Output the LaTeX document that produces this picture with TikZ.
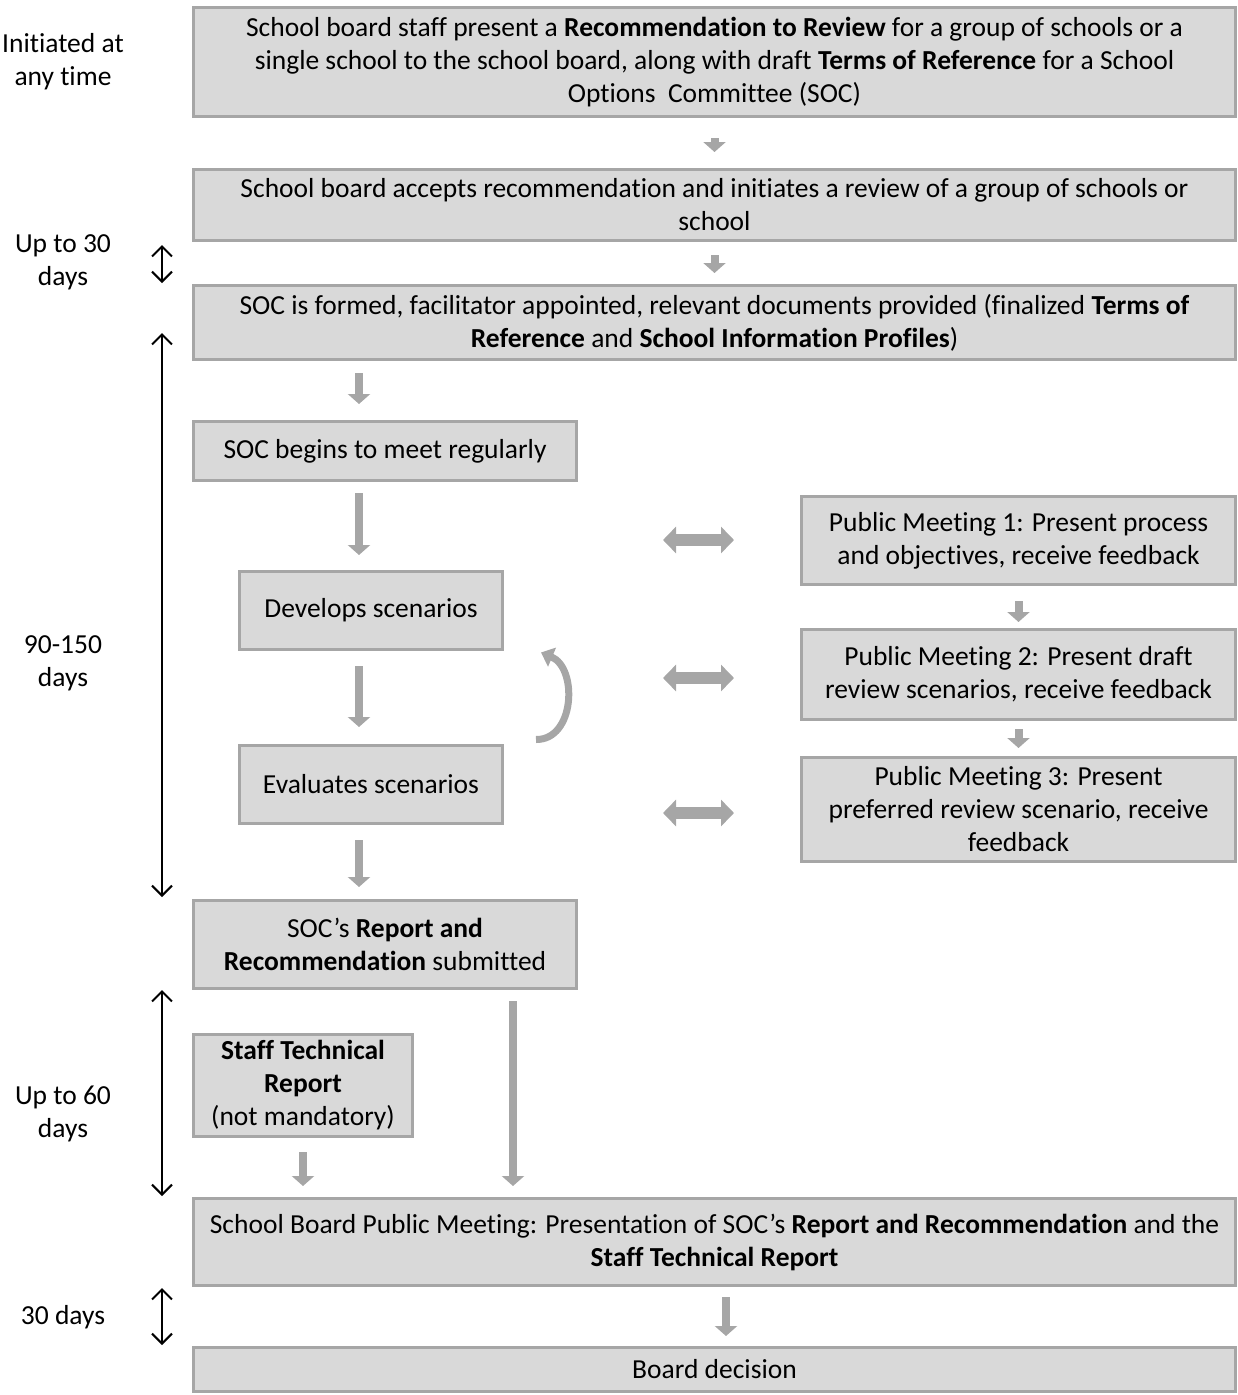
\documentclass[tikz,border=0pt]{standalone}
\usepackage{fontspec}
\setmainfont[Ligatures={NoCommon}]{Carlito}
\usetikzlibrary{arrows.meta,calc}
\definecolor{boxgray}{HTML}{D9D9D9}
\definecolor{bordergray}{HTML}{A6A6A6}
\definecolor{arrgray}{HTML}{A6A6A6}
\begin{document}
\begin{tikzpicture}[x=1pt,y=-1pt,
  stagebox/.style={draw=bordergray, line width=3pt, fill=boxgray, align=center, inner sep=0pt,
    font=\fontsize{27.5}{33}\selectfont, text=black},
  garrow/.style={draw=arrgray, line width=8pt, -{Triangle[length=10pt,width=22pt]}},
  hdarrow/.style={draw=arrgray, line width=12pt, {Triangle[length=13pt,width=26pt]}-{Triangle[length=13pt,width=26pt]}},
  carrow/.style={draw=arrgray, line width=7pt, -{Triangle[length=12pt,width=20pt]}},
  barrow/.style={draw=black, line width=2pt, {Straight Barb[length=10pt,width=20pt]}-{Straight Barb[length=10pt,width=20pt]}},
  sidelabel/.style={align=center, font=\fontsize{27.5}{33}\selectfont, inner sep=0pt}]
\useasboundingbox (0,0) rectangle (1238,1395);

% boxes
\node[stagebox, minimum width=1042pt, minimum height=109pt] (b1) at (714.5,62)
 {School board staff present a \textbf{Recommendation to Review} for a group of schools or a\\
  single school to the school board, along with draft \textbf{Terms of Reference} for a School\\
  Options~ Committee (SOC)};
\node[stagebox, minimum width=1042pt, minimum height=71pt] (b2) at (714.5,205)
 {School board accepts recommendation and initiates a review of a group of schools or\\ school};
\node[stagebox, minimum width=1042pt, minimum height=74pt] (b3) at (714.5,322.5)
 {SOC is formed, facilitator appointed, relevant documents provided (finalized \textbf{Terms of}\\
  \textbf{Reference} and \textbf{School Information Profiles})};
\node[stagebox, minimum width=383pt, minimum height=59pt] (b4) at (385,451)
 {SOC begins to meet regularly};
\node[stagebox, minimum width=263pt, minimum height=78pt] (b5) at (371,610.5)
 {Develops scenarios};
\node[stagebox, minimum width=263pt, minimum height=78pt] (b6) at (371,784.5)
 {Evaluates scenarios};
\node[stagebox, minimum width=383pt, minimum height=88pt] (b7) at (385,944.5)
 {SOC’s \textbf{Report and}\\ \textbf{Recommendation} submitted};
\node[stagebox, minimum width=219pt, minimum height=102pt] (b8) at (303,1085.5)
 {\textbf{Staff Technical}\\ \textbf{Report}\\ (not mandatory)};
\node[stagebox, minimum width=1042pt, minimum height=87pt] (b9) at (714.5,1242)
 {School Board Public Meeting: Presentation of SOC’s \textbf{Report and Recommendation} and the\\
  \textbf{Staff Technical Report}};
\node[stagebox, minimum width=1042pt, minimum height=44pt] (b10) at (714.5,1369.5)
 {Board decision};
\node[stagebox, minimum width=434pt, minimum height=88pt] (p1) at (1018.5,540.5)
 {Public Meeting 1: Present process\\ and objectives, receive feedback};
\node[stagebox, minimum width=434pt, minimum height=90pt] (p2) at (1018.5,674.5)
 {Public Meeting 2: Present draft\\ review scenarios, receive feedback};
\node[stagebox, minimum width=434pt, minimum height=104pt] (p3) at (1018.5,809.5)
 {Public Meeting 3: Present\\ preferred review scenario, receive\\ feedback};

% side labels
\node[sidelabel] (l1) at (63,62) {Initiated at\\ any time};
\node[sidelabel] (l2) at (63,262) {Up to 30\\ days};
\node[sidelabel] (l3) at (63,663) {90-150\\ days};
\node[sidelabel] (l4) at (63,1114) {Up to 60\\ days};
\node[sidelabel] (l5) at (63,1317) {30 days};

% gray down arrows
\draw[garrow, shorten <=20pt, shorten >=16pt] (b1.south) -- (b2.north);
\draw[garrow, shorten <=13pt, shorten >=11pt] (b2.south) -- (b3.north);
\coordinate (xa) at ([xshift=-26pt]b4.north);
\draw[garrow, shorten <=12pt, shorten >=16pt] (xa |- b3.south) -- (xa);
\draw[garrow, shorten <=11pt, shorten >=15pt] (xa |- b4.south) -- (xa |- b5.north);
\draw[garrow, shorten <=15pt, shorten >=17pt] (xa |- b5.south) -- (xa |- b6.north);
\draw[garrow, shorten <=15pt, shorten >=12pt] (xa |- b6.south) -- (xa |- b7.north);
\draw[garrow, shorten <=15pt, shorten >=6pt] (p1.south) -- (p2.north);
\draw[garrow, shorten <=8pt, shorten >=8pt] (p2.south) -- (p3.north);
\coordinate (xb) at ([xshift=128pt]b7.south);
\draw[garrow, shorten <=11pt, shorten >=11pt] (xb) -- (xb |- b9.north);
\draw[garrow, shorten <=14pt, shorten >=11pt] (b8.south) -- (b8.south |- b9.north);
\coordinate (xc) at ([xshift=11.5pt]b9.south);
\draw[garrow, shorten <=10pt, shorten >=10pt] (xc) -- (xc |- b10.north);

% horizontal double arrows
\coordinate (h1) at ([xshift=-137pt,yshift=0.5pt]p1.west);
\draw[hdarrow, shorten >=66pt] (h1) -- (h1 -| p1.west);
\coordinate (h2) at ([xshift=-137pt,yshift=-3.5pt]p2.west);
\draw[hdarrow, shorten >=66pt] (h2) -- (h2 -| p2.west);
\coordinate (h3) at ([xshift=-137pt,yshift=-3.5pt]p3.west);
\draw[hdarrow, shorten >=66pt] (h3) -- (h3 -| p3.west);

% curved arrow
\coordinate (cs) at ([xshift=32pt,yshift=4.5pt]b6.north east);
\coordinate (ce) at ([xshift=37pt,yshift=-1.5pt]b5.south east);
\draw[carrow] (cs) .. controls (575,740) and (578,668) .. (ce);

% black timeline arrows
\coordinate (t1a) at (162,245); \coordinate (t1b) at (162,283);
\coordinate (t2a) at (162,333); \coordinate (t2b) at (162,897);
\coordinate (t3a) at (162,990); \coordinate (t3b) at (162,1196);
\coordinate (t4a) at (162,1288); \coordinate (t4b) at (162,1345);
\draw[barrow] (t1a) -- (t1b);
\draw[barrow] (t2a) -- (t2b);
\draw[barrow] (t3a) -- (t3b);
\draw[barrow] (t4a) -- (t4b);
\end{tikzpicture}
\end{document}
